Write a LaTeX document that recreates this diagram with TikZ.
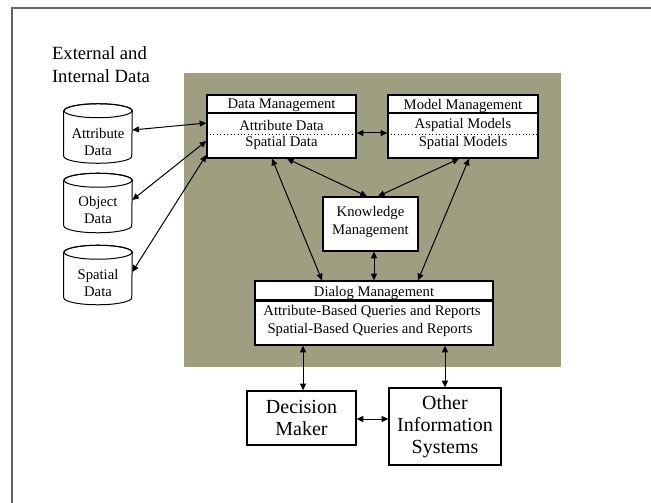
\documentclass[tikz,border=0pt]{standalone}
\usepackage{fontspec}
\setmainfont{Liberation Serif}
\usetikzlibrary{arrows.meta,calc}
\definecolor{panel}{RGB}{160,158,128}
\definecolor{frameline}{RGB}{100,100,100}

% database drum drawn round a named (invisible) node
\newcommand\drumshape[1]{%
  \draw[line width=0.75pt, fill=white]
    ($(#1.north west)+(0,-7)$) -- ($(#1.south west)+(0,7)$)
    arc[start angle=180, end angle=360, x radius=25.5pt, y radius=5.25pt]
    -- ($(#1.north east)+(0,-7)$)
    arc[start angle=0, end angle=180, x radius=25.5pt, y radius=5.25pt] -- cycle;
  \draw[line width=0.75pt] ($(#1.north)+(0,-7)$) ellipse[x radius=25.5pt, y radius=5.25pt];}

\begin{document}
\begin{tikzpicture}[x=0.75pt,y=0.75pt,
  box/.style={draw, line width=1pt, fill=white, inner sep=0pt, rectangle},
  drumnode/.style={inner sep=0pt, minimum width=51pt, minimum height=44.25pt},
  link/.style={line width=0.75pt, {Triangle[length=5pt,width=4.5pt]}-{Triangle[length=5pt,width=4.5pt]}},
  txt/.style={font=\fontsize{11}{13.5}\selectfont, align=center, inner sep=0pt},
  drumtxt/.style={font=\fontsize{11}{12.75}\selectfont, align=center, inner sep=0pt},
  bigtxt/.style={font=\fontsize{15}{16.5}\selectfont, align=center},
  headrule/.style={line width=1.5pt},
  sep/.style={dotted, line width=0.6pt}]
\useasboundingbox (0,0) rectangle (651,-503);
\fill[white] (0,0) rectangle (651,-503);
\draw[frameline, line width=1.5pt] (12,-510) -- (12,-8) -- (660,-8);

% shaded system panel
\fill[panel] (184,-73) rectangle (561,-367);

% heading
\node[font=\fontsize{14}{17}\selectfont, align=left, inner sep=0pt] (heading) at (101,-64.5) {External and\\Internal Data};

% data stores
\node[drumnode] (cyla) at (98,-133.5) {};
\node[drumnode] (cylo) at (98,-203) {};
\node[drumnode] (cyls) at (98,-275) {};
\drumshape{cyla}
\drumshape{cylo}
\drumshape{cyls}
\node[drumtxt] (cylatxt) at (98,-141.5) {Attribute\\Data};
\node[drumtxt] (cylotxt) at (98,-210) {Object\\Data};
\node[drumtxt] (cylstxt) at (98,-283) {Spatial\\Data};

% data management
\node[box, minimum width=111.75pt, minimum height=47.25pt] (dm) at (281.5,-126.5) {};
\draw[headrule] (dm.west |- 0,-113) -- (dm.east |- 0,-113);
\draw[sep] (dm.west |- 0,-134) -- (dm.east |- 0,-134);
\node[txt] (dmhead) at (281.5,-105.5) {Data Management};
\node[txt] (dmone) at (281.5,-125) {Attribute Data};
\node[txt] (dmtwo) at (281.5,-142.5) {Spatial Data};

% model management
\node[box, minimum width=112.5pt, minimum height=47.25pt] (mm) at (463,-126.5) {};
\draw[headrule] (mm.west |- 0,-113) -- (mm.east |- 0,-113);
\draw[sep] (mm.west |- 0,-134) -- (mm.east |- 0,-134);
\node[txt] (mmhead) at (463,-105.5) {Model Management};
\node[txt] (mmone) at (463,-125) {Aspatial Models};
\node[txt] (mmtwo) at (463,-142.5) {Spatial Models};

% knowledge management
\node[box, minimum width=71.25pt, minimum height=40.5pt] (km) at (370.5,-224) {};
\node[txt] (kmtxt) at (370.5,-221.5) {Knowledge\\Management};

% dialog management
\node[box, minimum width=178.5pt, minimum height=48pt] (dg) at (374,-313) {};
\draw[headrule] (dg.west |- 0,-300.5) -- (dg.east |- 0,-300.5);
\node[txt] (dghead) at (374,-292.5) {Dialog Management};
\node[txt] (dgone) at (372,-312) {Attribute-Based Queries and Reports};
\node[txt] (dgtwo) at (370,-330) {Spatial-Based Queries and Reports};

% users of the system
\node[box, bigtxt, minimum width=81.75pt, minimum height=40.5pt] (dec) at (301.5,-418) {Decision\\Maker};
\node[box, bigtxt, minimum width=84pt, minimum height=57.75pt] (ois) at (445,-426.5) {Other\\Information\\Systems};

% connectors
\draw[link] (cyla.east |- 0,-130) -- (dm.west |- 0,-123);
\draw[link] (cylo.east |- 0,-200) -- (dm.west |- 0,-141);
\draw[link] (cyls.east |- 0,-272) -- (dm.west |- 0,-155);
\draw[link] (dm.east |- 0,-133) -- (mm.west |- 0,-133);
\draw[link] (dm.south -| 272,0) -- (dg.north -| 322,0);
\draw[link] (dm.south -| 287,0) -- (km.north -| 367,0);
\draw[link] (mm.south -| 459,0) -- (km.north -| 378,0);
\draw[link] (mm.south -| 469,0) -- (dg.north -| 418,0);
\draw[link] (km.south -| 374,0) -- (dg.north -| 374,0);
\draw[link] (dg.south -| 303,0) -- (dec.north -| 303,0);
\draw[link] (dg.south -| 445,0) -- (ois.north);
\draw[link] (dec.east |- 0,-419) -- (ois.west |- 0,-419);
\end{tikzpicture}
\end{document}
